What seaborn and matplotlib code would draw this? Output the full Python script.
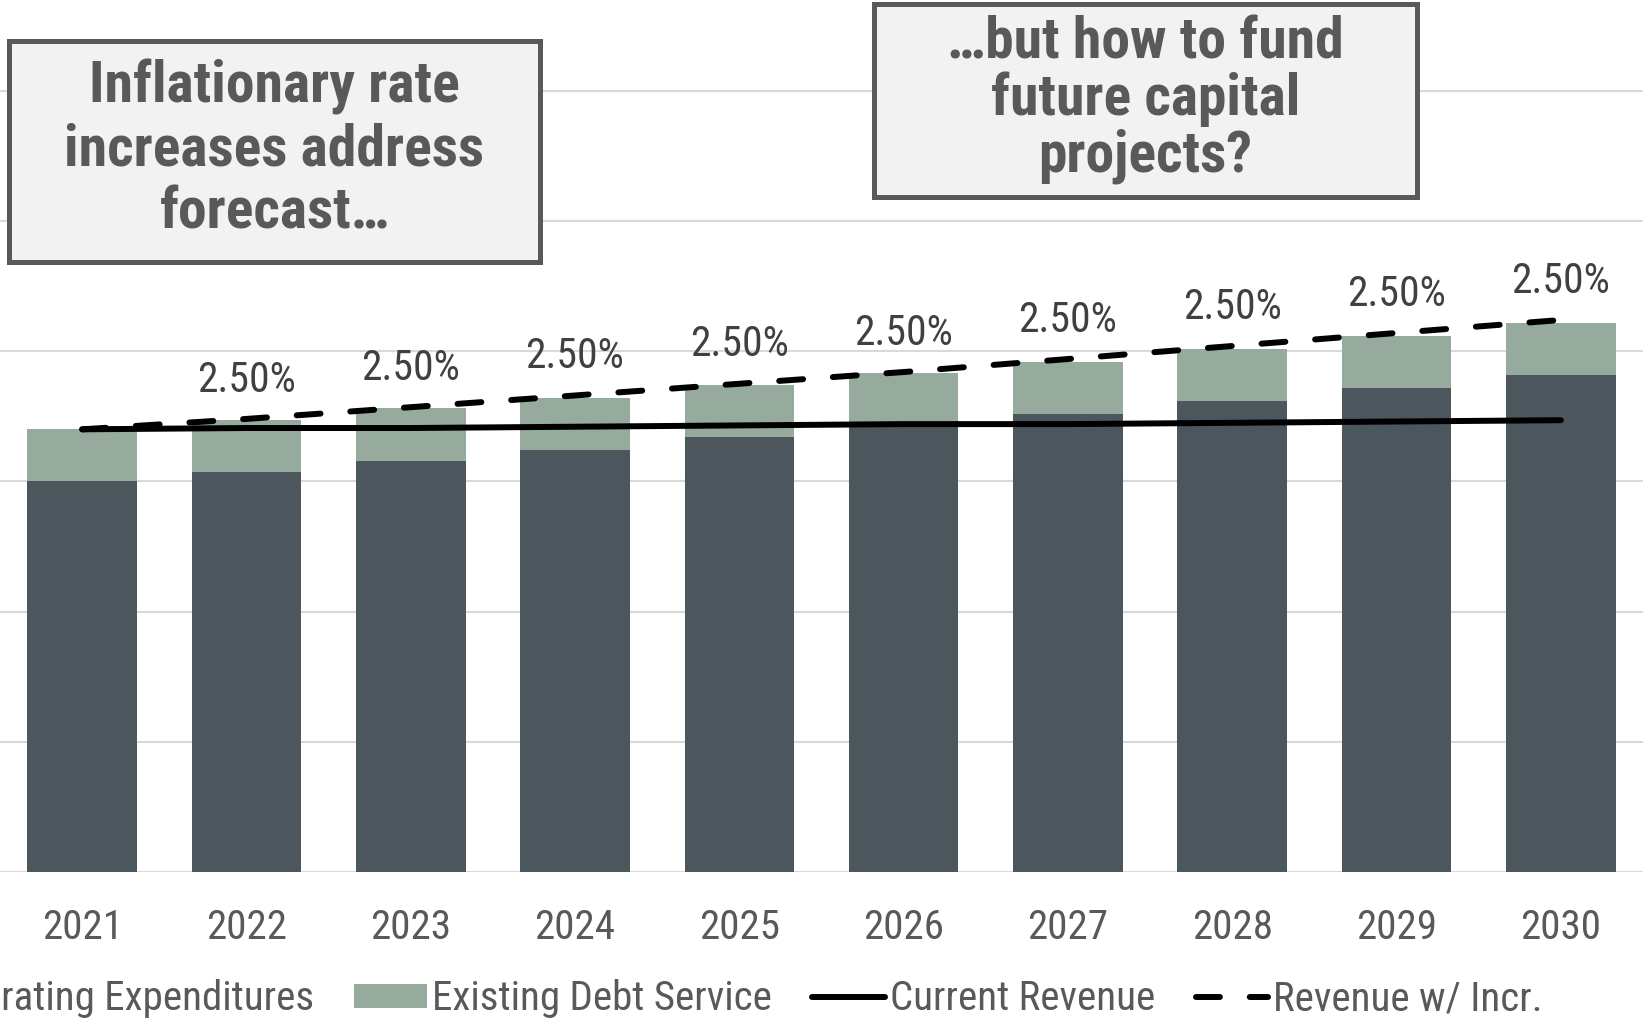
import numpy as np
import pandas as pd
import matplotlib
matplotlib.use("Agg")
import matplotlib.pyplot as plt
from matplotlib import font_manager
from matplotlib.patches import Rectangle, Patch
from matplotlib.lines import Line2D
import seaborn as sns

# ---- data (values in $M) ----
years = ["2021", "2022", "2023", "2024", "2025", "2026", "2027", "2028", "2029", "2030"]
operating_expenditures = [3.00, 3.07, 3.16, 3.24, 3.34, 3.43, 3.52, 3.62, 3.72, 3.82]
existing_debt_service = [0.40, 0.40, 0.40, 0.40, 0.40, 0.40, 0.40, 0.40, 0.40, 0.40]
current_revenue = [3.40, 3.41, 3.41, 3.42, 3.43, 3.44, 3.44, 3.45, 3.46, 3.47]
revenue_with_increase = [3.40, 3.48, 3.57, 3.66, 3.75, 3.84, 3.94, 4.04, 4.14, 4.24]
rate_increase = [0.00, 2.50, 2.50, 2.50, 2.50, 2.50, 2.50, 2.50, 2.50, 2.50]

left_note = "Inflationary rate\nincreases address\nforecast\u2026"
right_note = "\u2026but how to fund\nfuture capital\nprojects?"

# ---- style ----
sns.set_theme(style="white")


def pick_font(names):
    for n in names:
        try:
            font_manager.findfont(font_manager.FontProperties(family=n),
                                  fallback_to_default=False)
            return n
        except Exception:
            continue
    return "DejaVu Sans"


FONT = pick_font(["Arial Narrow", "Liberation Sans Narrow", "Roboto Condensed",
                  "Archivo Narrow", "Liberation Sans"])
plt.rcParams["font.family"] = [FONT, "DejaVu Sans"]

DARK = "#4B565D"
SAGE = "#96AB9E"
GRID = "#D9D9D9"
TEXT = "#595959"
FS = 29.5

W, H = 1643, 1018
fig = plt.figure(figsize=(W / 100, H / 100), dpi=100)
ax_bottom = (H - 872) / H
ax = fig.add_axes([0.0, ax_bottom, 1.0, 1.0 - ax_bottom])

df = pd.DataFrame({
    "year": years,
    "op": operating_expenditures,
    "total": np.array(operating_expenditures) + np.array(existing_debt_service),
})

# stacked columns: total (debt on top) drawn first, operating overlaid
sns.barplot(data=df, x="year", y="total", color=SAGE, saturation=1,
            width=0.667, ax=ax, zorder=2, linewidth=0)
sns.barplot(data=df, x="year", y="op", color=DARK, saturation=1,
            width=0.667, ax=ax, zorder=3, linewidth=0)

idx = np.arange(len(years))
sns.lineplot(x=idx, y=current_revenue, color="black", linewidth=4.3,
             ax=ax, zorder=5, solid_capstyle="round")
sns.lineplot(x=idx, y=revenue_with_increase, color="black", linewidth=4.3,
             ax=ax, zorder=5)
ax.lines[-1].set_dashes((4, 5))
ax.lines[-1].set_dash_capstyle("round")

for i, (r, v) in enumerate(zip(rate_increase, revenue_with_increase)):
    if i == 0:
        continue
    ax.annotate(f"{r:.2f}%", (i, v), xytext=(0, 28), textcoords="offset points",
                ha="center", va="center", fontsize=FS + 0.5, color="#404040", zorder=6)

ax.set_xlim(-0.5, len(years) - 0.5)
ax.set_ylim(0, 872 / 130.2)
ax.set_yticks(np.arange(0, 7))
ax.set_yticklabels([])
ax.yaxis.grid(True, color=GRID, linewidth=1.5, zorder=0)
ax.set_axisbelow(True)
for s in ax.spines.values():
    s.set_visible(False)
ax.set_xlabel("")
ax.set_ylabel("")
ax.tick_params(axis="x", length=0, pad=26, labelsize=FS, labelcolor=TEXT)
ax.tick_params(axis="y", length=0)

# legend along the bottom edge
handles = [
    Patch(facecolor=DARK, edgecolor="none"),
    Patch(facecolor=SAGE, edgecolor="none"),
    Line2D([], [], color="black", linewidth=4.3, solid_capstyle="round"),
    Line2D([], [], color="black", linewidth=4.3, dashes=(4, 5),
           dash_capstyle="round"),
]
labels = ["Operating Expenditures", "Existing Debt Service",
          "Current Revenue", "Revenue w/ Incr."]
leg = fig.legend(handles, labels, loc="center right",
                 bbox_to_anchor=(1543 / W, (H - 999) / H), ncol=4,
                 frameon=False, fontsize=FS, borderpad=0, borderaxespad=0,
                 handlelength=1.78, handleheight=0.56, handletextpad=0.12,
                 columnspacing=0.98)
for t in leg.get_texts():
    t.set_color(TEXT)


# callout boxes
def callout(x0, y0, x1, y1, text, ls, dy=0):
    fig.patches.append(Rectangle((x0 / W, 1 - y1 / H), (x1 - x0) / W, (y1 - y0) / H,
                                 transform=fig.transFigure, facecolor="#F2F2F2",
                                 edgecolor=TEXT, linewidth=3.6, zorder=10))
    fig.text((x0 + x1) / 2 / W, 1 - ((y0 + y1) / 2 + dy) / H, text, ha="center",
             va="center", fontsize=41.5, fontweight="bold", color=TEXT,
             linespacing=ls, zorder=11)


callout(9, 41, 540, 262, left_note, 1.18, dy=-2)
callout(874, 4, 1417, 197, right_note, 1.03, dy=-1)

fig.savefig("out.png", dpi=100)
